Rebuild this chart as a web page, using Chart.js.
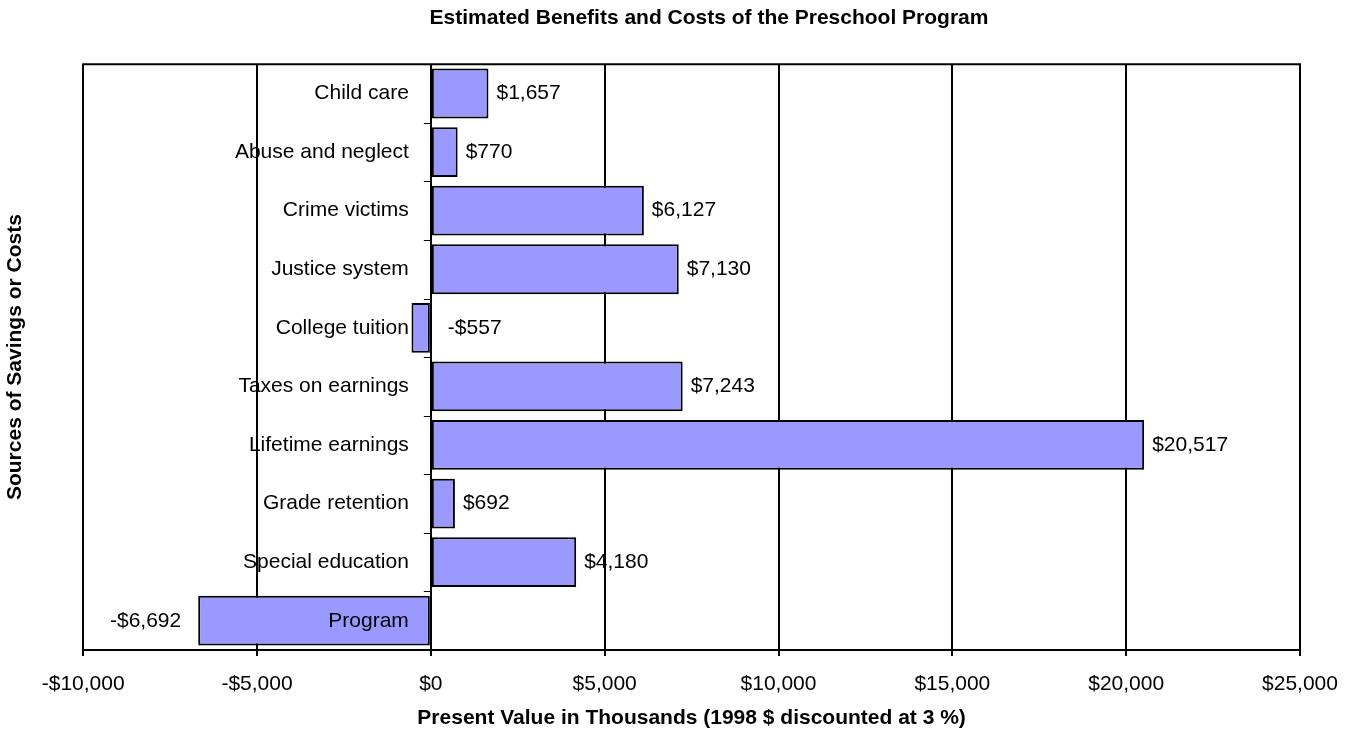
<!DOCTYPE html>
<html>
<head>
<meta charset="utf-8">
<script src="https://cdn.jsdelivr.net/npm/chart.js@4/dist/chart.umd.min.js"></script>
<style>
  html, body { margin: 0; padding: 0; background: #fff; }
  #wrap { width: 1354px; height: 733px; }
</style>
</head>
<body>
<div id="wrap"><canvas id="c"></canvas></div>
<script>
const categories = ['Child care', 'Abuse and neglect', 'Crime victims', 'Justice system', 'College tuition',
  'Taxes on earnings', 'Lifetime earnings', 'Grade retention', 'Special education', 'Program'];
const values = [1657, 770, 6127, 7130, -557, 7243, 20517, 692, 4180, -6692];
const xMin = -10000, xMax = 25000, xStep = 5000;
const chartTitle = 'Estimated Benefits and Costs of the Preschool Program';
const xTitle = 'Present Value in Thousands (1998 $ discounted at 3 %)';
const yTitle = 'Sources of Savings or Costs';

const FONT = "'Liberation Sans', Arial, sans-serif";
const fmt = v => (v < 0 ? '-$' : '$') + Math.abs(v).toLocaleString('en-US');

const overlayPlugin = {
  id: 'overlay',
  beforeDraw(chart) {
    const ctx = chart.ctx;
    ctx.save();
    ctx.fillStyle = '#ffffff';
    ctx.fillRect(0, 0, chart.width, chart.height);
    ctx.restore();
  },
  afterLayout(chart) {
    if (chart.titleBlock) {
      chart.titleBlock.left += 59;
      chart.titleBlock.right += 59;
    }
  },
  afterDatasetsDraw(chart) {
    const ctx = chart.ctx;
    const xs = chart.scales.x, ys = chart.scales.y;
    const area = chart.chartArea;
    const zeroX = xs.getPixelForValue(0);
    ctx.save();
    // top border of plot area
    ctx.strokeStyle = '#000';
    ctx.lineWidth = 2;
    ctx.beginPath();
    ctx.moveTo(area.left - 1, area.top);
    ctx.lineTo(area.right + 1, area.top);
    ctx.stroke();
    // small tick marks at category boundaries on the zero line
    const n = categories.length;
    const band = (area.bottom - area.top) / n;
    ctx.lineWidth = 1;
    for (let i = 1; i < n; i++) {
      const y = Math.round(area.top + band * i) + 0.5;
      ctx.beginPath();
      ctx.moveTo(zeroX - 7, y);
      ctx.lineTo(zeroX, y);
      ctx.stroke();
    }
    // category labels
    ctx.font = '21px ' + FONT;
    ctx.fillStyle = '#000';
    ctx.textBaseline = 'middle';
    ctx.textAlign = 'right';
    const labelRight = zeroX - 22;
    const labelLefts = [];
    categories.forEach((c, i) => {
      const y = ys.getPixelForValue(i);
      ctx.fillText(c, labelRight, y);
      labelLefts.push(labelRight - ctx.measureText(c).width);
    });
    // data labels
    const meta = chart.getDatasetMeta(0);
    values.forEach((v, i) => {
      const bar = meta.data[i];
      const y = bar.y;
      const end = xs.getPixelForValue(v);
      if (v >= 0) {
        ctx.textAlign = 'left';
        ctx.fillText(fmt(v), end + 8, y);
      } else if (end < labelLefts[i]) {
        ctx.textAlign = 'right';
        ctx.fillText(fmt(v), end - 17, y);
      } else {
        ctx.textAlign = 'left';
        ctx.fillText(fmt(v), zeroX + 17, y);
      }
    });
    ctx.restore();
  }
};

new Chart(document.getElementById('c'), {
  type: 'bar',
  data: {
    labels: categories,
    datasets: [{
      data: values,
      backgroundColor: '#9999ff',
      borderColor: '#000000',
      borderWidth: 2,
      borderSkipped: false,
      barPercentage: 0.85,
      categoryPercentage: 1.0
    }]
  },
  options: {
    indexAxis: 'y',
    responsive: true,
    maintainAspectRatio: false,
    animation: false,
    layout: { padding: { left: 0, right: 54, top: 0, bottom: 0 } },
    plugins: {
      legend: { display: false },
      tooltip: { enabled: false },
      title: {
        display: true,
        text: chartTitle,
        color: '#000',
        font: { family: FONT, size: 21, weight: 'bold', lineHeight: 1.2 },
        padding: { top: 6, bottom: 33 }
      }
    },
    scales: {
      x: {
        type: 'linear',
        position: 'bottom',
        min: xMin,
        max: xMax,
        afterFit: s => { s.height = 83; },
        ticks: {
          stepSize: xStep,
          color: '#000',
          font: { family: FONT, size: 21, lineHeight: 1.2 },
          padding: 16,
          maxRotation: 0,
          callback: v => fmt(v)
        },
        grid: {
          color: '#000',
          lineWidth: 2,
          tickLength: 6,
          drawTicks: true
        },
        border: { display: true, color: '#000', width: 2 },
        title: {
          display: true,
          text: xTitle,
          color: '#000',
          font: { family: FONT, size: 21, weight: 'bold', lineHeight: 1.2 },
          padding: { top: 10, bottom: 2 }
        }
      },
      y: {
        type: 'category',
        position: 'left',
        offset: true,
        ticks: { display: false },
        grid: { display: false, drawTicks: false, tickLength: 0 },
        border: { display: false },
        title: {
          display: true,
          text: yTitle,
          color: '#000',
          font: { family: FONT, size: 21, weight: 'bold', lineHeight: 1.2 },
          padding: { top: 3, bottom: 55 }
        }
      }
    }
  },
  plugins: [overlayPlugin]
});
</script>
</body>
</html>
